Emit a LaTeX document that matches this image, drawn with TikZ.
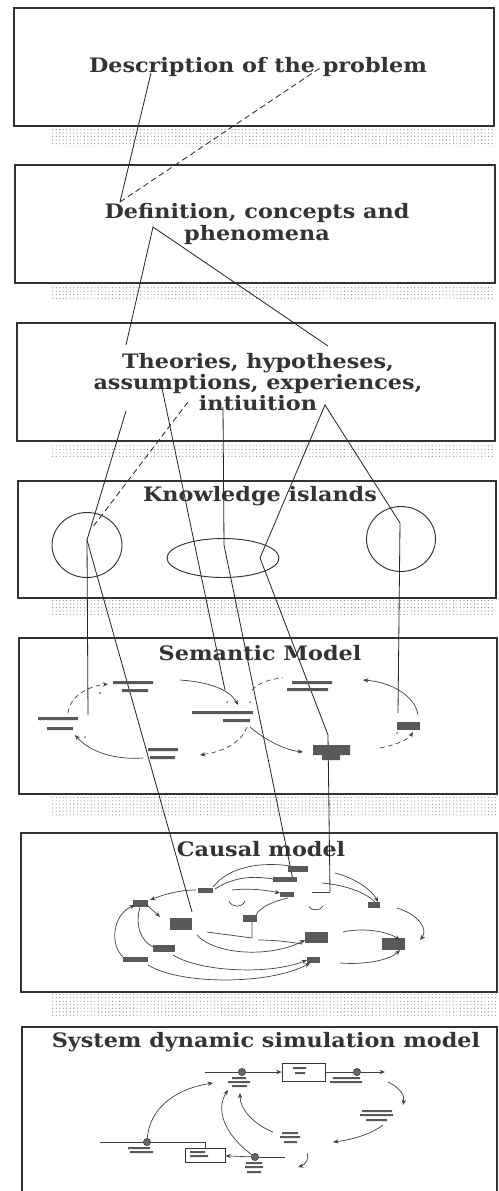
\documentclass[tikz,border=0pt]{standalone}
\usepackage{fontspec}
\setmainfont{DejaVu Serif}[FakeStretch=1.12]
\usetikzlibrary{arrows.meta,positioning,fit,patterns,shapes.geometric}
\tikzset{
  >={Stealth[length=1.6mm,width=1.3mm]},
  % kader
  lev/.style={draw=black!80,line width=0.9pt,inner sep=0pt},
  ttl/.style={font=\fontsize{17}{18}\selectfont\bfseries,text=black!80,
              align=center,inner sep=1pt},
  strip/.style={pattern=dots,pattern color=black!45},
  ln/.style={draw=black!85,line width=0.7pt},
  lnd/.style={ln,dash pattern=on 5pt off 3pt},
  isl/.style={ellipse,draw=black!80,line width=0.8pt,inner sep=0pt},
  % kleine modellen
  blob/.style={fill=black!65},
  lk/.style={draw=black!75,line width=0.6pt},
  lkd/.style={lk,dash pattern=on 4pt off 3pt},
  sdot/.style={circle,fill=black!80,inner sep=0pt,minimum size=1.3pt},
  valve/.style={circle,fill=black!60,draw=black!80,inner sep=0pt,minimum size=2.2mm},
}
\begin{document}
\begin{tikzpicture}[x=0.03cm,y=-0.03cm]
  \useasboundingbox (0,0) rectangle (499,1191);
  % schaduw onder de kaders
  \fill[strip] (50,128) rectangle (495,146);
  \fill[strip] (50,285) rectangle (495,299);
  \fill[strip] (50,443) rectangle (495,458);
  \fill[strip] (50,600) rectangle (495,614);
  \fill[strip] (50,796) rectangle (497,816);
  \fill[strip] (50,994) rectangle (497,1015);

  \node[lev,fit={(14,8)(494,126)}] (b1) {};
  \node[lev,fit={(15,165)(495,283)}] (b2) {};
  \node[lev,fit={(17,323)(495,441)}] (b3) {};
  \node[lev,fit={(18,481)(496,598)}] (b4) {};
  \node[lev,fit={(19,638)(497,794)}] (b5) {};
  \node[lev,fit={(21,833)(497,992)}] (b6) {};
  \node[lev,fit={(22,1027)(497,1200)}] (b7) {};

  \node[ttl] (t1) at (258,67) {Description of the problem};
  \node[ttl] (t2) at (257,224) {Definition, concepts and\\phenomena};
  \node[ttl] (t3) at (258,382) {Theories, hypotheses,\\assumptions, experiences,\\intiuition};
  \node[ttl] (t4) at (260,496) {Knowledge islands};
  \node[ttl] (t5) at (260,653) {Semantic Model};
  \node[ttl] (t6) at (261,849) {Causal model};
  \node[ttl] (t7) at (266,1042) {System dynamic simulation model};

  \node[isl,minimum width=2.1cm,minimum height=1.95cm] (k1) at (87,545) {};
  \node[isl,minimum width=3.36cm,minimum height=1.17cm] (k2) at (223,558) {};
  \node[isl,minimum width=2.07cm,minimum height=1.95cm] (k3) at (401,539) {};

  % verbindingen
  \coordinate (p1) at (151,73);   \coordinate (p2) at (120,202);
  \coordinate (p3) at (320,68);   \coordinate (p4) at (153,227);
  \coordinate (p5) at (126,345);  \coordinate (p6) at (328,346);
  \coordinate (p7) at (126,411);  \coordinate (p8) at (87,540);
  \coordinate (p9) at (188,402);  \coordinate (p10) at (92,528);
  \coordinate (p11) at (162,388); \coordinate (p12) at (225,690);
  \coordinate (p13) at (223,407); \coordinate (p14) at (224,545);
  \coordinate (p15) at (293,880); \coordinate (p16) at (325,405);
  \coordinate (p17) at (400,523); \coordinate (p18) at (398,713);
  \coordinate (p19) at (260,558); \coordinate (p20) at (328,735);
  \coordinate (p21) at (330,892); \coordinate (p22) at (88,715);
  \coordinate (p23) at (192,912);
  \draw[ln] (p1) -- (p2);
  \draw[lnd] (p2) -- (p3);
  \draw[ln] (p5) -- (p4) -- (p6);
  \draw[ln] (p7) -- (p8) -- (p22);
  \draw[ln] (p8) -- (p23);
  \draw[lnd] (p9) -- (p10);
  \draw[ln] (p11) -- (p12);
  \draw[ln] (p13) -- (p14) -- (p15);
  \draw[ln] (p18) -- (p17) -- (p16) -- (p19) -- (p20) -- (p21);

  % semantisch model
  \fill[blob] (113,681) rectangle (153,684) (122,689) rectangle (148,692);
  \fill[blob] (38,717) rectangle (78,720) (47,727) rectangle (73,730);
  \fill[blob] (148,748) rectangle (178,751) (150,756) rectangle (175,759);
  \fill[blob] (192,711) rectangle (253,714) (223,719) rectangle (250,722);
  \fill[blob] (292,681) rectangle (332,684) (287,688) rectangle (328,691);
  \fill[blob] (313,745) rectangle (350,755) (322,755) rectangle (340,760);
  \fill[blob] (397,722) rectangle (420,730);
  \draw[lkd,->] (68,713) .. controls (70,695) and (90,686) .. (108,684);
  \draw[lk,->] (180,680) .. controls (210,682) and (230,690) .. (238,705);
  \draw[lkd,->] (247,727) .. controls (240,745) and (220,752) .. (200,755);
  \draw[lk,->] (143,758) .. controls (115,760) and (90,752) .. (75,735);
  \draw[lkd] (252,690) .. controls (260,682) and (270,679) .. (283,678);
  \draw[lk,->] (250,727) .. controls (265,740) and (285,750) .. (303,752);
  \draw[lk,->] (418,715) .. controls (415,695) and (390,682) .. (363,680);
  \draw[lkd,->] (380,748) .. controls (395,745) and (408,740) .. (413,732);
  \foreach \d in {(100,693),(85,737),(227,702),(250,702),(397,733)}
    \node[sdot] at \d {};

  % causaal model
  \fill[blob] (133,900) rectangle (148,907);
  \fill[blob] (170,918) rectangle (192,930);
  \fill[blob] (198,888) rectangle (213,893);
  \fill[blob] (273,877) rectangle (297,882);
  \fill[blob] (288,866) rectangle (308,872);
  \fill[blob] (280,892) rectangle (294,897);
  \fill[blob] (243,915) rectangle (257,922);
  \fill[blob] (305,932) rectangle (328,943);
  \fill[blob] (368,902) rectangle (380,908);
  \fill[blob] (382,938) rectangle (405,950);
  \fill[blob] (153,945) rectangle (175,952);
  \fill[blob] (123,957) rectangle (148,962);
  \fill[blob] (307,957) rectangle (320,963);
  \draw[lk] (229,901) .. controls (232,908) and (242,908) .. (245,901);
  \draw[lk] (309,907) .. controls (312,911) and (320,911) .. (323,906);
  \draw[lk] (213,887) .. controls (230,865) and (265,862) .. (290,866);
  \draw[lk] (215,889) .. controls (235,876) and (255,876) .. (273,879);
  \draw[lk,->] (232,890) .. controls (250,888) and (265,890) .. (280,893);
  \draw[lk,->] (196,890) .. controls (180,890) and (165,894) .. (150,900);
  \draw[lk,<-] (135,905) .. controls (112,915) and (110,945) .. (123,957);
  \draw[lk] (140,907) .. controls (135,925) and (140,940) .. (153,947);
  \draw[lk,->] (147,905) .. controls (152,910) and (156,913) .. (160,917);
  \draw[lk,->] (197,935) .. controls (215,955) and (270,958) .. (305,940);
  \draw[lk] (288,898) .. controls (270,902) and (260,908) .. (256,915);
  \draw[lk] (252,922) -- (252,938) -- (207,932);
  \draw[lk] (258,940) .. controls (275,940) and (290,942) .. (302,944);
  \draw[lk,->] (173,955) .. controls (200,972) and (270,975) .. (307,960);
  \draw[lk,->] (148,965) .. controls (180,985) and (270,985) .. (310,963);
  \draw[lk,->] (343,932) .. controls (360,928) and (385,930) .. (400,940);
  \draw[lk,->] (340,963) .. controls (365,965) and (390,960) .. (400,950);
  \draw[lk,->] (397,908) .. controls (420,915) and (428,930) .. (420,940);
  \draw[lk,->] (335,873) .. controls (355,878) and (372,890) .. (378,902);
  \draw[lk] (322,883) .. controls (345,885) and (365,892) .. (375,902);
  \draw[lk] (312,892) -- (330,892);

  % simulatiemodel
  \node[draw=black!80,line width=0.7pt,minimum width=1.29cm,minimum height=0.54cm,
        inner sep=0pt] (s1) at (303.5,1072) {};
  \node[draw=black!80,line width=0.7pt,minimum width=1.2cm,minimum height=0.42cm,
        inner sep=0pt] (s2) at (205,1155) {};
  \node[valve] (v1) at (242,1072) {};
  \node[valve] (v2) at (357,1072) {};
  \node[valve] (v3) at (147,1142) {};
  \node[valve] (v4) at (255,1157) {};
  \coordinate (f1) at (205,1072); \coordinate (f2) at (385,1072);
  \coordinate (f3) at (100,1142); \coordinate (f4) at (205,1142);
  \coordinate (f5) at (285,1157);
  \draw[lk] (f1) -- (v1);
  \draw[lk,->] (v1) -- (s1);
  \draw[lk] (s1) -- (v2);
  \draw[lk,->] (v2) -- (f2);
  \draw[lk] (f3) -- (v3) -- (f4) -- (s2.north);
  \draw[lk] (f5) -- (v4);
  \draw[lk,->] (v4) -- (s2);
  \fill[blob] (293,1067) rectangle (306,1069) (295,1072) rectangle (305,1074);
  \fill[blob] (232,1077) rectangle (246,1079) (228,1081) rectangle (250,1083)
              (232,1085) rectangle (247,1087);
  \fill[blob] (333,1077) rectangle (360,1079) (330,1081) rectangle (362,1083);
  \fill[blob] (190,1151) rectangle (205,1153) (190,1155) rectangle (208,1157);
  \fill[blob] (128,1147) rectangle (150,1149) (130,1151) rectangle (153,1153);
  \fill[blob] (246,1162) rectangle (262,1164) (245,1166) rectangle (263,1168)
              (247,1171) rectangle (261,1173);
  \fill[blob] (362,1110) rectangle (392,1112) (360,1114) rectangle (393,1116)
              (366,1119) rectangle (387,1121);
  \fill[blob] (282,1132) rectangle (298,1134) (280,1136) rectangle (300,1138)
              (284,1141) rectangle (297,1143);
  \draw[lk,->] (v3) .. controls (150,1105) and (180,1088) .. (213,1083);
  \draw[lk,->] (v4) .. controls (225,1135) and (215,1110) .. (228,1090);
  \draw[lk,->] (273,1132) .. controls (255,1125) and (240,1110) .. (240,1093);
  \draw[lk,->] (388,1082) .. controls (400,1088) and (405,1095) .. (403,1105);
  \draw[lk,->] (383,1125) .. controls (370,1135) and (350,1140) .. (333,1142);
  \draw[lk,->] (307,1153) .. controls (310,1158) and (305,1165) .. (298,1167);
\end{tikzpicture}
\end{document}
